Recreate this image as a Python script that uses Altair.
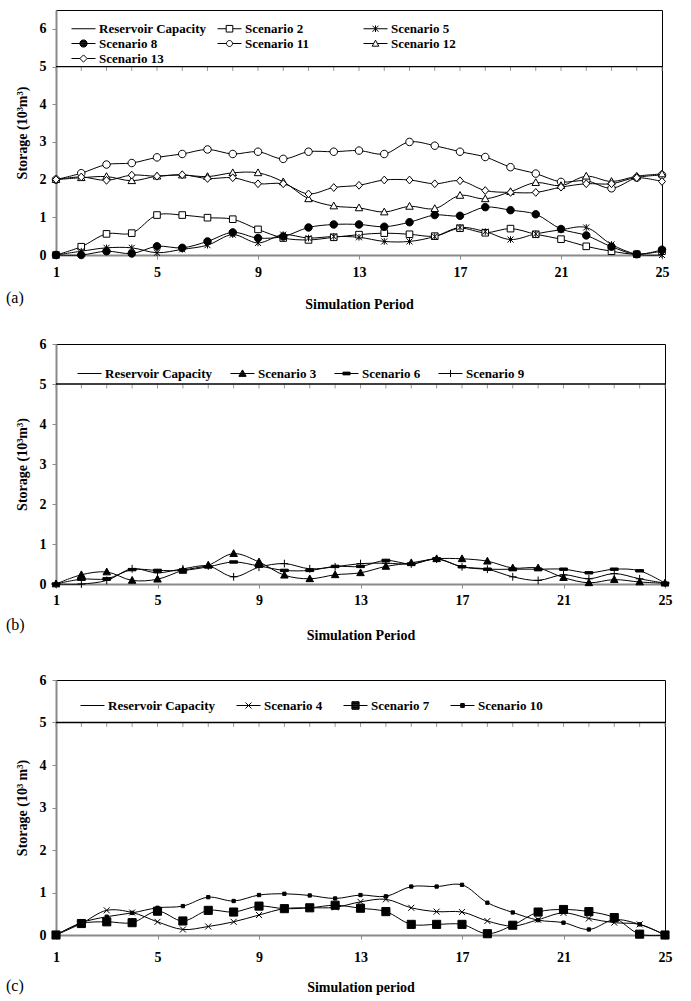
import altair as alt
import pandas as pd

FONT = "Liberation Serif"
periods = list(range(1, 26))
CAPACITY = 5
x_ticks = [1, 5, 9, 13, 17, 21, 25]

# ---------------- Panel (a) ----------------
a_names = ["Reservoir Capacity", "Scenario 2", "Scenario 5", "Scenario 8",
           "Scenario 11", "Scenario 12", "Scenario 13"]
s2 = [0, 0.22, 0.56, 0.58, 1.06, 1.06, 0.99, 0.95, 0.68, 0.45, 0.40, 0.47, 0.54,
      0.58, 0.55, 0.50, 0.71, 0.59, 0.70, 0.55, 0.42, 0.23, 0.10, 0.02, 0.10]
s5 = [0, 0.10, 0.19, 0.19, 0.06, 0.15, 0.26, 0.54, 0.32, 0.54, 0.45, 0.49, 0.47,
      0.36, 0.36, 0.49, 0.73, 0.62, 0.41, 0.56, 0.67, 0.73, 0.28, 0.02, 0.0]
s8 = [0, 0.0, 0.10, 0.04, 0.23, 0.19, 0.36, 0.60, 0.45, 0.49, 0.73, 0.81, 0.81,
      0.75, 0.87, 1.06, 1.04, 1.27, 1.19, 1.08, 0.69, 0.52, 0.22, 0.02, 0.14]
s11 = [2.0, 2.17, 2.40, 2.44, 2.59, 2.68, 2.80, 2.68, 2.74, 2.55, 2.74, 2.74, 2.77,
       2.68, 3.0, 2.90, 2.74, 2.60, 2.33, 2.16, 1.94, 1.97, 1.77, 2.05, 2.12]
s12 = [2.0, 2.05, 2.08, 1.97, 2.09, 2.12, 2.08, 2.18, 2.18, 1.94, 1.49, 1.30, 1.25,
       1.14, 1.29, 1.23, 1.58, 1.49, 1.68, 1.92, 1.84, 2.09, 1.95, 2.09, 2.15]
s13 = [2.0, 2.07, 1.98, 2.12, 2.09, 2.13, 2.03, 2.05, 1.89, 1.89, 1.62, 1.79, 1.85,
       1.99, 1.99, 1.89, 1.97, 1.71, 1.66, 1.66, 1.80, 1.89, 1.89, 2.05, 1.95]

# ---------------- Panel (b) ----------------
b_names = ["Reservoir Capacity", "Scenario 3", "Scenario 6", "Scenario 9"]
s3 = [0, 0.23, 0.30, 0.09, 0.12, 0.34, 0.47, 0.76, 0.55, 0.22, 0.13, 0.23, 0.28,
      0.44, 0.53, 0.63, 0.63, 0.57, 0.40, 0.40, 0.16, 0.03, 0.11, 0.05, 0.02]
s6 = [0, 0.12, 0.13, 0.36, 0.34, 0.34, 0.43, 0.55, 0.45, 0.34, 0.34, 0.44, 0.44,
      0.59, 0.50, 0.63, 0.43, 0.37, 0.37, 0.37, 0.37, 0.28, 0.37, 0.33, 0.02]
s9 = [0, 0.0, 0.09, 0.38, 0.28, 0.38, 0.45, 0.18, 0.42, 0.51, 0.38, 0.43, 0.51,
      0.52, 0.50, 0.62, 0.43, 0.37, 0.18, 0.09, 0.23, 0.13, 0.26, 0.13, 0.02]

# ---------------- Panel (c) ----------------
c_names = ["Reservoir Capacity", "Scenario 4", "Scenario 7", "Scenario 10"]
s4 = [0, 0.27, 0.58, 0.53, 0.31, 0.13, 0.20, 0.31, 0.47, 0.62, 0.64, 0.65, 0.78,
      0.84, 0.64, 0.55, 0.54, 0.33, 0.21, 0.36, 0.52, 0.39, 0.29, 0.25, 0.0]
s7 = [0, 0.27, 0.31, 0.29, 0.56, 0.33, 0.58, 0.54, 0.68, 0.62, 0.64, 0.70, 0.63,
      0.55, 0.25, 0.25, 0.25, 0.03, 0.23, 0.54, 0.60, 0.55, 0.41, 0.02, 0.0]
s10 = [0, 0.29, 0.43, 0.52, 0.64, 0.68, 0.89, 0.80, 0.94, 0.97, 0.93, 0.86, 0.94,
       0.91, 1.14, 1.14, 1.18, 0.76, 0.53, 0.35, 0.29, 0.13, 0.36, 0.25, 0.0]

# plot marker paths (drawn at size 36 -> 3 px per unit)
P_OSQ = "M-1.1,-1.1H1.1V1.1H-1.1Z"
P_CIR = "M-1.25,0A1.25,1.25 0 1,0 1.25,0A1.25,1.25 0 1,0 -1.25,0Z"
P_TRI = "M0,-1.3L1.25,0.95H-1.25Z"
P_DIA = "M0,-1.3L1.15,0L0,1.3L-1.15,0Z"
P_STAR = "M-1,-1L1,1M-1,1L1,-1M0,-1.1V1.1"
P_X = "M-1,-1L1,1M-1,1L1,-1"
P_PLUS = "M-1.3,0H1.3M0,-1.3V1.3"
P_DASH = "M-1.3,-0.4H1.3V0.4H-1.3Z"
P_FSQ = "M-1.35,-1.35H1.35V1.35H-1.35Z"
P_SSQ = "M-0.55,-0.55H0.55V0.55H-0.55Z"


# legend symbols: stroke-only paths (line + marker), size 144 -> 6 px per unit;
# solid markers are drawn as dense horizontal strokes
def _steps(a, b, step=0.14):
    n = int(round((b - a) / step))
    return [a + (b - a) * i / n for i in range(n + 1)]


def solid_circle(r):
    segs = []
    for y in _steps(-r, r):
        w = max(r * r - y * y, 0) ** 0.5
        segs.append(f"M{-w:.3f},{y:.3f}H{w:.3f}")
    return "".join(segs) + f"M{-r},0A{r},{r} 0 1,0 {r},0A{r},{r} 0 1,0 {-r},0"


def solid_rect(hw, hh):
    segs = [f"M{-hw:.3f},{y:.3f}H{hw:.3f}" for y in _steps(-hh, hh)]
    return "".join(segs) + f"M{-hw},{-hh}H{hw}V{hh}H{-hw}Z"


def solid_tri(top, base, half):
    segs = []
    for y in _steps(top, base):
        w = half * (y - top) / (base - top)
        segs.append(f"M{-w:.3f},{y:.3f}H{w:.3f}")
    return "".join(segs) + f"M0,{top}L{half},{base}H{-half}Z"


LINE = "M-2,0H2"
L_LINE = LINE
L_OSQ = "M-2,0H-0.55M0.55,0H2M-0.55,-0.55H0.55V0.55H-0.55Z"
L_STAR = LINE + "M-0.5,-0.5L0.5,0.5M-0.5,0.5L0.5,-0.5M0,-0.55V0.55"
L_FCIR = LINE + solid_circle(0.6)
L_OCIR = "M-2,0H-0.5M0.5,0H2M-0.5,0A0.5,0.5 0 1,0 0.5,0A0.5,0.5 0 1,0 -0.5,0Z"
L_OTRI = "M-2,0H-0.3M0.3,0H2M0,-0.55L0.55,0.45H-0.55Z"
L_ODIA = "M-2,0H-0.6M0.6,0H2M0,-0.6L0.6,0L0,0.6L-0.6,0Z"
L_FTRI = LINE + solid_tri(-0.6, 0.45, 0.6)
L_DASH = LINE + solid_rect(0.6, 0.2)
L_PLUS = LINE + "M0,-0.6V0.6"
L_X = LINE + "M-0.5,-0.5L0.5,0.5M-0.5,0.5L0.5,-0.5"
L_FSQ = LINE + solid_rect(0.6, 0.6)
L_SSQ = LINE + solid_rect(0.3, 0.3)


def panel(names, series, plot_shapes, legend_shapes, fills,
          width, height, ymax, ytitle, xtitle, tag, legend_kw, tag_y,
          label_pad, title_pad):
    rows = []
    for nm, vals in zip(names[1:], series):
        for p, v in zip(periods, vals):
            rows.append({"period": p, "value": v, "series": nm})
    df = pd.DataFrame(rows)
    leg_df = pd.DataFrame({"series": names})
    cap_ticks = pd.DataFrame({"period": periods, "value": [CAPACITY] * len(periods)})

    xs = alt.Scale(domain=[1, 25], nice=False, zero=False)
    ys = alt.Scale(domain=[0, ymax], nice=False, zero=True)
    xaxis = alt.Axis(values=x_ticks, title=xtitle, grid=False, labelFlush=False,
                     domainColor="#8a8a8a", domainWidth=2, tickColor="#8a8a8a",
                     tickSize=4, labelFont=FONT, labelFontSize=14,
                     labelFontWeight="bold", labelColor="black", labelPadding=label_pad,
                     titleFont=FONT, titleFontSize=14, titleFontWeight="bold",
                     titleColor="black", titlePadding=title_pad)
    yaxis = alt.Axis(values=[0, 1, 2, 3, 4, 5, 6], title=ytitle, grid=False,
                     domainColor="#8a8a8a", domainWidth=2, tickColor="#8a8a8a",
                     tickSize=4, labelFont=FONT, labelFontSize=14,
                     labelFontWeight="bold", labelColor="black", labelPadding=6,
                     titleFont=FONT, titleFontSize=14, titleFontWeight="bold",
                     titleColor="black", titlePadding=10)
    X = alt.X("period:Q", scale=xs, axis=xaxis)
    Y = alt.Y("value:Q", scale=ys, axis=yaxis)

    cap = alt.Chart(pd.DataFrame({"value": [CAPACITY]})).mark_rule(
        color="black", strokeWidth=1.3).encode(y=alt.Y("value:Q", scale=ys, axis=yaxis))

    cap_tick = alt.Chart(cap_ticks).mark_tick(
        orient="vertical", size=4, thickness=1, color="#9a9a9a", yOffset=2.5,
        opacity=1).encode(x=X, y=Y)

    lines = alt.Chart(df).mark_line(interpolate="catmull-rom", color="black",
                                    strokeWidth=1).encode(x=X, y=Y, detail="series:N")

    pts = alt.Chart(df).mark_point(filled=True, stroke="black", strokeWidth=1,
                                   size=36, opacity=1).encode(
        x=X, y=Y,
        shape=alt.Shape("series:N", scale=alt.Scale(domain=names[1:], range=plot_shapes), legend=None),
        fill=alt.Fill("series:N", scale=alt.Scale(domain=names[1:], range=fills[1:]), legend=None),
    )

    leg = alt.Legend(title=None, orient="none", direction="horizontal",
                     labelFont=FONT, labelFontSize=13,
                     labelFontWeight="bold", labelColor="black", symbolSize=144,
                     symbolStrokeWidth=1, symbolStrokeColor="black",
                     symbolFillColor="transparent", symbolOpacity=1,
                     labelOffset=9, rowPadding=1, **legend_kw)
    # invisible (clipped, off-plot) layer that only feeds the legend
    legend_layer = alt.Chart(leg_df).mark_point(filled=False, color="black",
                                                strokeWidth=1, opacity=1, clip=True).encode(
        x=alt.value(-2000), y=alt.value(-2000),
        shape=alt.Shape("series:N", scale=alt.Scale(domain=names, range=legend_shapes), legend=leg),
    )

    tag_layer = alt.Chart(pd.DataFrame({"t": [tag]})).mark_text(
        align="left", baseline="middle", font=FONT, fontSize=16, color="black").encode(
        x=alt.value(-50), y=alt.value(tag_y), text="t:N")

    return alt.layer(cap_tick, cap, lines, pts, legend_layer, tag_layer).resolve_scale(
        shape="independent", fill="independent").properties(
        width=width, height=height)


pa = panel(a_names, [s2, s5, s8, s11, s12, s13],
           [P_OSQ, P_STAR, P_CIR, P_CIR, P_TRI, P_DIA],
           [L_LINE, L_OSQ, L_STAR, L_FCIR, L_OCIR, L_OTRI, L_ODIA],
           ["white", "white", "white", "black", "white", "white", "white"],
           606, 245, 6.5, "Storage (10³m³)", "Simulation Period", "(a)",
           dict(legendX=21, legendY=12, columns=3, gridAlign="all", columnPadding=8),
           288, 6, 18)

pb = panel(b_names, [s3, s6, s9],
           [P_TRI, P_DASH, P_PLUS],
           [L_LINE, L_FTRI, L_DASH, L_PLUS],
           ["white", "black", "black", "black"],
           609, 240, 6, "Storage (10³m³)", "Simulation Period", "(b)",
           dict(legendX=27, legendY=23, columns=4, gridAlign="none", columnPadding=15),
           281, 5, 21)

pc = panel(c_names, [s4, s7, s10],
           [P_X, P_FSQ, P_SSQ],
           [L_LINE, L_X, L_FSQ, L_SSQ],
           ["white", "white", "black", "black"],
           609, 255, 6, "Storage (10³ m³)", "Simulation period", "(c)",
           dict(legendX=30, legendY=19, columns=4, gridAlign="none", columnPadding=18),
           306, 11, 16)

top = alt.vconcat(pa, pb, spacing=24)
chart = alt.vconcat(top, pc, spacing=29).properties(
    padding={"left": 5, "top": 9, "right": 5, "bottom": 5}
).configure_view(stroke="black", strokeWidth=1)

chart.save("out.html", embed_options={"renderer": "svg", "actions": False})
